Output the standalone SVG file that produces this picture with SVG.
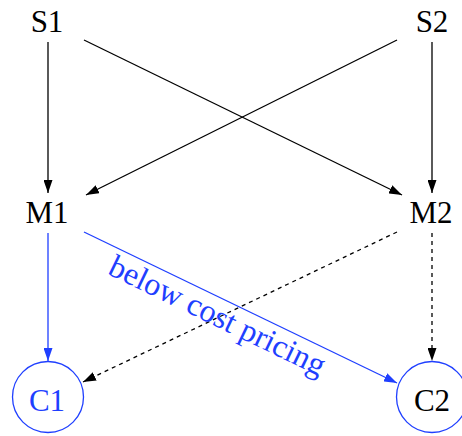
<svg xmlns="http://www.w3.org/2000/svg" width="462" height="436" viewBox="0 0 462 436">
<defs>
<style>
.t{font-family:"Liberation Serif","Times New Roman",serif;font-size:31px;text-anchor:middle}
.k{fill:#000}
.b{fill:#1f3fff}
.e{fill:none;stroke-width:1.3}
.ek{stroke:#000}
.eb{stroke:#1f3fff}
.d{stroke-dasharray:4 4}
</style>
<marker id="ak" markerUnits="userSpaceOnUse" viewBox="0 0 13 9" refX="13" refY="4.5" markerWidth="13" markerHeight="9" orient="auto"><path d="M0,0 L13,4.5 L0,9 Z" fill="#000"/></marker>
<marker id="ab" markerUnits="userSpaceOnUse" viewBox="0 0 13 9" refX="13" refY="4.5" markerWidth="13" markerHeight="9" orient="auto"><path d="M0,0 L13,4.5 L0,9 Z" fill="#1f3fff"/></marker>
</defs>
<rect width="462" height="436" fill="#fff"/>
<g id="edges">
<line class="e ek" x1="48" y1="42" x2="48" y2="193" marker-end="url(#ak)"/>
<line class="e ek" x1="432" y1="42" x2="432" y2="193" marker-end="url(#ak)"/>
<line class="e ek" x1="84" y1="40" x2="402" y2="195" marker-end="url(#ak)"/>
<line class="e ek" x1="397" y1="40" x2="86" y2="195" marker-end="url(#ak)"/>
<line class="e eb" x1="48" y1="233" x2="48" y2="361" marker-end="url(#ab)"/>
<line class="e ek d" x1="432" y1="233" x2="432" y2="361" marker-end="url(#ak)"/>
<line class="e eb" x1="84" y1="232" x2="397" y2="383" marker-end="url(#ab)"/>
<line class="e ek d" x1="397" y1="232" x2="83" y2="382" marker-end="url(#ak)"/>
<text class="t b" style="font-size:32px" x="213" y="325" transform="rotate(25.8 213 325)">below cost pricing</text>
</g>
<g id="S1"><text class="t k" x="47" y="32">S1</text></g>
<g id="S2"><text class="t k" x="432" y="32">S2</text></g>
<g id="M1"><text class="t k" x="47" y="223">M1</text></g>
<g id="M2"><text class="t k" x="431" y="223">M2</text></g>
<g id="C1"><circle cx="48" cy="397" r="35.5" fill="none" stroke="#1f3fff" stroke-width="1.3"/><text class="t b" x="47" y="411">C1</text></g>
<g id="C2"><circle cx="432" cy="397" r="35.5" fill="none" stroke="#1f3fff" stroke-width="1.3"/><text class="t k" x="432" y="411">C2</text></g>
</svg>
